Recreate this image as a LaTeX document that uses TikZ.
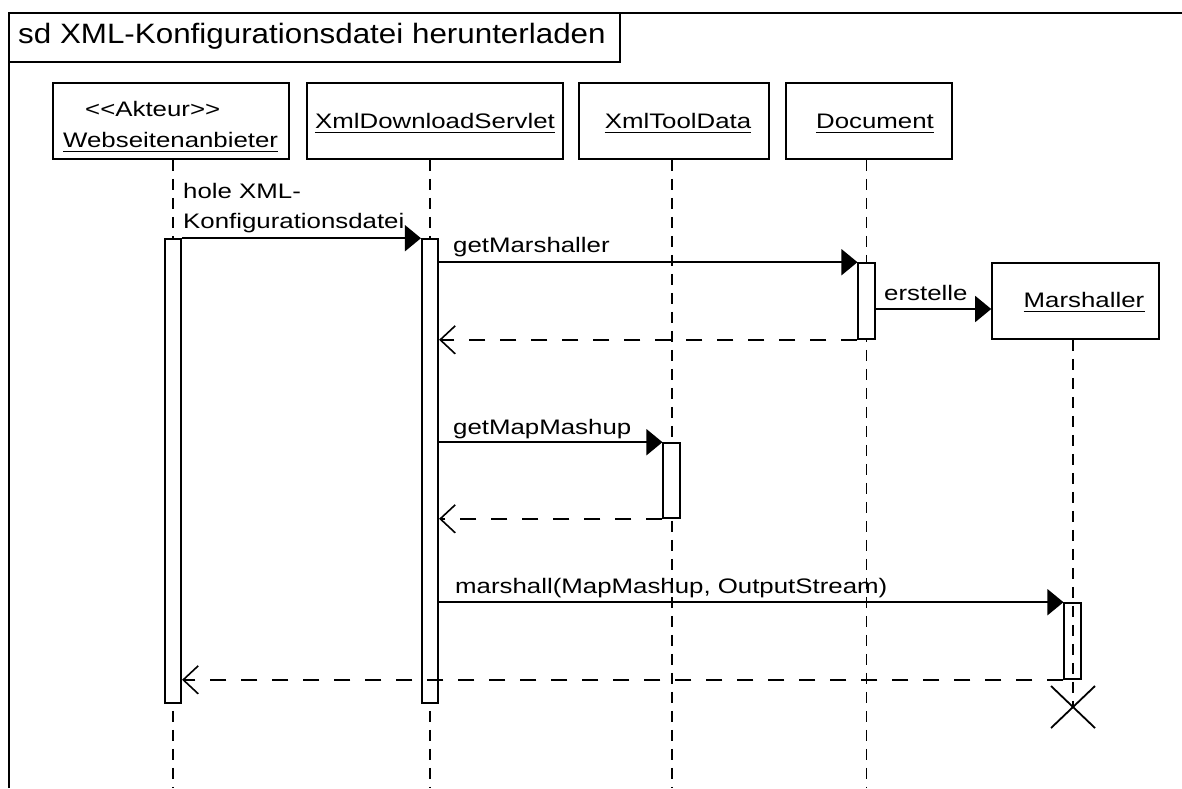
\documentclass[tikz,border=0pt]{standalone}
\usepackage{fontspec}
\setmainfont{Liberation Sans}
\newfontfamily\labfont[FakeStretch=1.23]{Liberation Sans}
\newfontfamily\ttlfont[FakeStretch=1.12]{Liberation Sans}
\usetikzlibrary{arrows.meta,calc}
\begin{document}
\begin{tikzpicture}[x=1pt,y=-1pt,
  frameline/.style={line width=1.8pt},
  headbox/.style={draw, line width=1.6pt, fill=white, minimum height=76pt, inner sep=0pt},
  lifeline/.style={line width=1.6pt, dash pattern=on 11pt off 8pt},
  actbar/.style={draw, line width=1.6pt, fill=white, minimum width=16.5pt, inner sep=0pt},
  lbl/.style={inner sep=0pt, font=\labfont\fontsize{21}{25}\selectfont},
  uline/.style={line width=1.3pt},
  callmsg/.style={line width=1.6pt, -{Triangle[length=16pt,width=26pt]}},
  retmsg/.style={line width=1.6pt, dash pattern=on 16pt off 15pt,
                 -{Straight Barb[length=15pt,width=28pt,line width=1.6pt]}},
  destroy/.style={line width=1.8pt}
]
\useasboundingbox (0,0) rectangle (1182,788);

% frame with its name tab
\draw[frameline] (9,788) -- (9,13) -- (1182,13);
\draw[frameline] (9,62) -- (620,62) -- (620,13);
\node[inner sep=0pt, anchor=base west, font=\ttlfont\fontsize{28}{32}\selectfont]
  (title) at (18,43) {sd XML-Konfigurationsdatei herunterladen};

% lifeline heads
\node[headbox, minimum width=236pt] (wa)  at (171,121) {};
\node[headbox, minimum width=256pt] (xds) at (435,121) {};
\node[headbox, minimum width=190pt] (xtd) at (674,121) {};
\node[headbox, minimum width=166pt] (doc) at (869,121) {};
\node[headbox, minimum width=167pt] (msh) at (1075.5,301) {};

% head texts
\node[lbl, anchor=base west] (twa0) at (85,116) {<<Akteur>>};
\node[lbl, anchor=base west] (twa)  at (63,147) {Webseitenanbieter};
\node[lbl, anchor=base] (txds) at (435,128) {XmlDownloadServlet};
\node[lbl, anchor=base] (txtd) at (678,128) {XmlToolData};
\node[lbl, anchor=base] (tdoc) at (875,128) {Document};
\node[lbl, anchor=base] (tmsh) at (1084,307) {Marshaller};
\foreach \t in {twa,txds,txtd,tdoc,tmsh}
  \draw[uline] ([yshift=-4.5pt]\t.base west) -- ([yshift=-4.5pt]\t.base east);

% lifelines
\coordinate (lwa)  at (173,788);
\coordinate (lxds) at (430,788);
\coordinate (lxtd) at (672,788);
\coordinate (ldoc) at (866.5,788);
\coordinate (xd)   at (1073,707);
\draw[lifeline] (lwa |- wa.south) -- (lwa);
\draw[lifeline] (lxds |- xds.south) -- (lxds);
\draw[lifeline] (lxtd |- xtd.south) -- (lxtd);
\draw[lifeline] (ldoc |- doc.south) -- (ldoc);

% activation bars
\node[actbar, minimum height=464pt] (b1) at (173,471) {};
\node[actbar, minimum height=464pt] (b2) at (430,471) {};
\node[actbar, minimum height=76pt]  (b3) at (866.5,301) {};
\node[actbar, minimum height=75pt]  (b4) at (671.5,480.5) {};
\node[actbar, fill=none, minimum height=76pt] (b5) at (1072.5,641) {};
\draw[lifeline] (xd |- msh.south) -- (xd);

% destruction of the Marshaller
\draw[destroy] ($(xd)+(-22,-21)$) -- ($(xd)+(22,21)$);
\draw[destroy] ($(xd)+(-22,21)$) -- ($(xd)+(22,-21)$);

% messages
\coordinate (e4) at (0,309);
\draw[callmsg] (b1.north east) -- (b2.north west);
\draw[callmsg] (b2.east |- b3.north) -- (b3.north west);
\draw[retmsg]  (b3.south west) -- (b2.east |- b3.south);
\draw[callmsg] (b3.east |- e4) -- (msh.west |- e4);
\draw[callmsg] (b2.east |- b4.north) -- (b4.north west);
\draw[retmsg]  (b4.south west) -- (b2.east |- b4.south);
\draw[callmsg] (b2.east |- b5.north) -- (b5.north west);
\draw[retmsg]  (b5.south west) -- (b1.east |- b5.south);

% message labels
\node[lbl, anchor=base west] (m1a) at (183,198) {hole XML-};
\node[lbl, anchor=base west] (m1b) at (183,228) {Konfigurationsdatei};
\node[lbl, anchor=base west] (m2)  at (453,252) {getMarshaller};
\node[lbl, anchor=base west] (m4)  at (884,300) {erstelle};
\node[lbl, anchor=base west] (m5)  at (453,434) {getMapMashup};
\node[lbl, anchor=base west] (m7)  at (455,593) {marshall(MapMashup, OutputStream)};
\end{tikzpicture}
\end{document}
